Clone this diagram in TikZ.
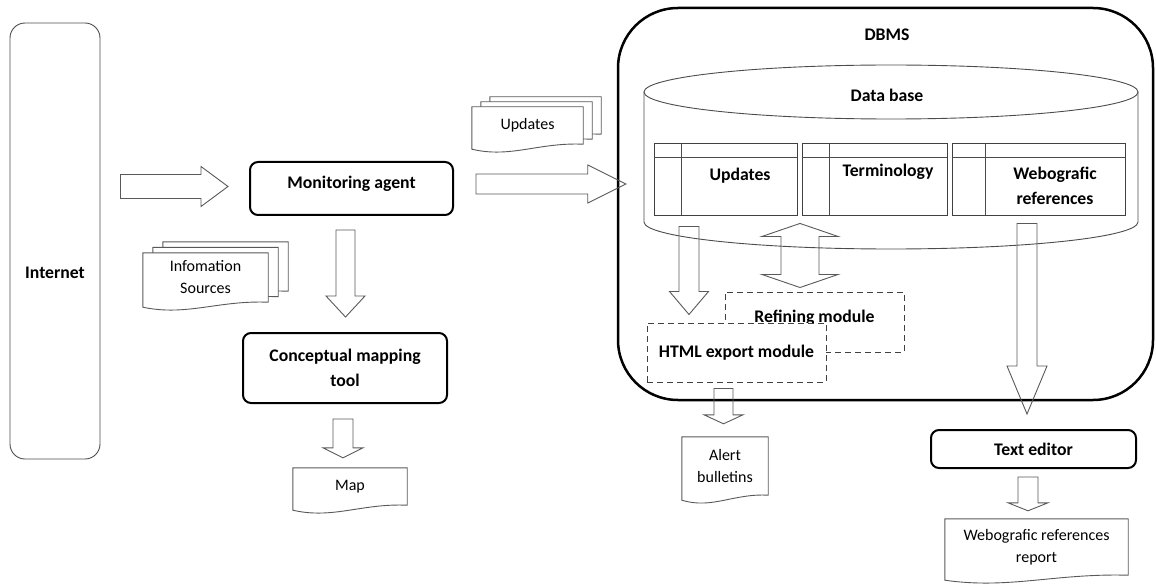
\documentclass[tikz,border=0pt]{standalone}
\usepackage{fontspec}
\setmainfont{Carlito}
\usetikzlibrary{calc,positioning,backgrounds}

\newcommand{\regtext}{\fontsize{16}{22}\selectfont}
\newcommand{\boldtext}{\fontsize{17.7}{25}\selectfont\bfseries}

% hollow block arrow: start, tip, half shaft, half head, head length
\newcommand{\blockarrow}[5]{%
  \coordinate (ba-s) at #1;
  \coordinate (ba-e) at #2;
  \coordinate (ba-b) at ($(ba-e)!#5!(ba-s)$);
  \draw[blockline] ($(ba-s)!#3!90:(ba-e)$) -- ($(ba-b)!#3!90:(ba-e)$) -- ($(ba-b)!#4!90:(ba-e)$)
    -- (ba-e) -- ($(ba-b)!#4!-90:(ba-e)$) -- ($(ba-b)!#3!-90:(ba-e)$) -- ($(ba-s)!#3!-90:(ba-e)$) -- cycle;
}
% hollow double block arrow
\newcommand{\dblarrow}[5]{%
  \coordinate (da-s) at #1;
  \coordinate (da-e) at #2;
  \coordinate (da-b1) at ($(da-s)!#5!(da-e)$);
  \coordinate (da-b2) at ($(da-e)!#5!(da-s)$);
  \draw[blockline] (da-s) -- ($(da-b1)!#4!90:(da-e)$) -- ($(da-b1)!#3!90:(da-e)$) -- ($(da-b2)!#3!-90:(da-s)$)
    -- ($(da-b2)!#4!-90:(da-s)$) -- (da-e) -- ($(da-b2)!#4!90:(da-s)$) -- ($(da-b2)!#3!90:(da-s)$)
    -- ($(da-b1)!#3!-90:(da-e)$) -- ($(da-b1)!#4!-90:(da-e)$) -- cycle;
}
% document outline round a node, shifted
\newcommand{\docoutline}[2]{%
  \coordinate (dc-nw) at ($(#1.north west)+(#2)$);
  \coordinate (dc-ne) at ($(#1.north east)+(#2)$);
  \coordinate (dc-se) at ($(#1.south east)+(#2)$);
  \coordinate (dc-sw) at ($(#1.south west)+(#2)+(0,5)$);
  \draw[docline] (dc-nw) -- (dc-ne) -- (dc-se)
    .. controls ($(dc-sw)!0.6!(dc-se)+(0,-4)$) and ($(dc-sw)!0.35!(dc-se)+(0,11)$) .. (dc-sw) -- cycle;
}

\tikzset{
  procbox/.style={draw, rounded corners=8pt, line width=2pt, font=\boldtext, align=center, inner sep=0pt},
  dashbox/.style={draw=black!75, dashed, dash pattern=on 6pt off 4pt, line width=1pt, fill=white, font=\boldtext, align=center, inner sep=0pt},
  doctxt/.style={font=\regtext, align=center, inner sep=0pt},
  lbl/.style={font=\boldtext, align=center, inner sep=0pt},
  tbl/.style={draw=black!75, line width=0.9pt, fill=white, inner sep=0pt, minimum height=72pt},
  fineline/.style={draw=black!70, line width=0.9pt},
  blockline/.style={draw=black!65, line width=0.9pt},
  docline/.style={draw=black!65, line width=0.9pt, fill=white},
  raisetext/.style={text height=12pt, text depth=12pt}
}

\begin{document}
\begin{tikzpicture}[x=1pt, y=-1pt]
    \useasboundingbox (0,0) rectangle (1156,588);

    % left part
    \node [fineline, rounded corners=15pt, minimum width=90pt, minimum height=436pt] (internet) at (55,241) {};
    \node [lbl] (internettxt) at (55,273) {Internet};
    \node [procbox, raisetext, minimum width=203pt, minimum height=53pt] (monitor) at (351.5,188.5) {Monitoring agent};
    \node [procbox, minimum width=204pt, minimum height=70pt] (concept) at (345,368) {Conceptual mapping\\tool};
    \node [doctxt, minimum width=114pt, minimum height=37pt] (map) at (350,486.5) {Map};
    \node [doctxt, minimum width=125pt, minimum height=49pt] (info) at (205.5,277.5) {Infomation\\Sources};
    \node [doctxt, minimum width=111pt, minimum height=37pt] (upddoc) at (527.5,125.5) {Updates};

    % DBMS and data base
    \node [draw, line width=2.5pt, rounded corners=60pt, minimum width=535pt, minimum height=392pt] (dbms) at (885.5,204) {};
    \node [lbl] (dbmstxt) at (887,35) {DBMS};
    \draw [fineline] (891,92) ellipse (247pt and 27pt);
    \draw [fineline] (644,92) -- (644,222) arc[start angle=180, end angle=360, x radius=247pt, y radius=27pt] -- (1138,92);
    \node [lbl] (dbtxt) at (887,95) {Data base};

    \node [tbl, minimum width=143pt] (tabupd) at (725.5,179) {};
    \node [tbl, minimum width=145pt] (tabterm) at (874.5,179) {};
    \node [tbl, minimum width=173pt] (tabweb) at (1038.5,179) {};
    \foreach \t/\c in {tabupd/28, tabterm/28, tabweb/34} {
        \draw [fineline] ($(\t.north west)+(0,15)$) -- ($(\t.north east)+(0,15)$);
        \draw [fineline] ($(\t.north west)+(\c,0)$) -- ($(\t.south west)+(\c,0)$);
    }
    \node [lbl] (tupdtxt) at (740,176) {Updates};
    \node [lbl] (ttermtxt) at (888,172) {Terminology};
    \node [lbl] (twebtxt) at (1055,186) {Webografic\\references};

    \node [dashbox, raisetext, minimum width=179pt, minimum height=60pt] (refine) at (814.5,322) {Refining module};
    \node [dashbox, minimum width=179pt, minimum height=59pt] (html) at (736.5,352.5) {HTML export module};

    % right part
    \node [doctxt, minimum width=86pt, minimum height=58pt] (alert) at (725,466) {Alert\\bulletins};
    \node [procbox, minimum width=205pt, minimum height=38pt] (editor) at (1033.5,449) {Text editor};
    \node [doctxt, minimum width=183pt, minimum height=56pt] (webrep) at (1036.5,547) {Webografic references\\report};

    % document outlines
    \begin{scope}[on background layer]
        \docoutline{info}{20,-11}
        \docoutline{info}{10,-5.5}
        \docoutline{info}{0,0}
        \docoutline{upddoc}{18,-10}
        \docoutline{upddoc}{9,-5}
        \docoutline{upddoc}{0,0}
        \docoutline{map}{0,0}
        \docoutline{alert}{0,0}
        \docoutline{webrep}{0,0}
    \end{scope}

    % block arrows
    \blockarrow{($(internet.east |- monitor.west)+(20,-2)$)}{($(monitor.west)+(-21,-2)$)}{12pt}{20pt}{27pt}
    \blockarrow{($(monitor.east)+(22,-4.5)$)}{($(dbms.west |- monitor.east)+(9,-4.5)$)}{10pt}{19pt}{38pt}
    \blockarrow{($(monitor.south -| concept.north)+(0.5,14)$)}{($(concept.north)+(0.5,-15)$)}{9.5pt}{19.5pt}{21pt}
    \blockarrow{($(concept.south)+(-2,15)$)}{($(map.north -| concept.south)+(-2,-10)$)}{10pt}{20pt}{10pt}
    \blockarrow{($(tabupd.south)+(-36.5,11)$)}{($(html.north -| tabupd.south)+(-36.5,-8)$)}{10pt}{19.5pt}{23pt}
    \dblarrow{($(tabterm.south)+(-74.5,8)$)}{($(refine.north -| tabterm.south)+(-74.5,-4)$)}{19pt}{38pt}{13pt}
    \blockarrow{($(html.south)+(-13,6)$)}{($(alert.north -| html.south)+(-13,-13)$)}{9.5pt}{19.5pt}{9pt}
    \blockarrow{($(tabweb.south)+(-11.5,8)$)}{($(editor.north)+(-6.5,-15)$)}{10pt}{20pt}{48pt}
    \blockarrow{($(editor.south)+(-5.5,8)$)}{($(webrep.north -| editor.south)+(-5.5,-8)$)}{10pt}{20pt}{8pt}
\end{tikzpicture}
\end{document}
